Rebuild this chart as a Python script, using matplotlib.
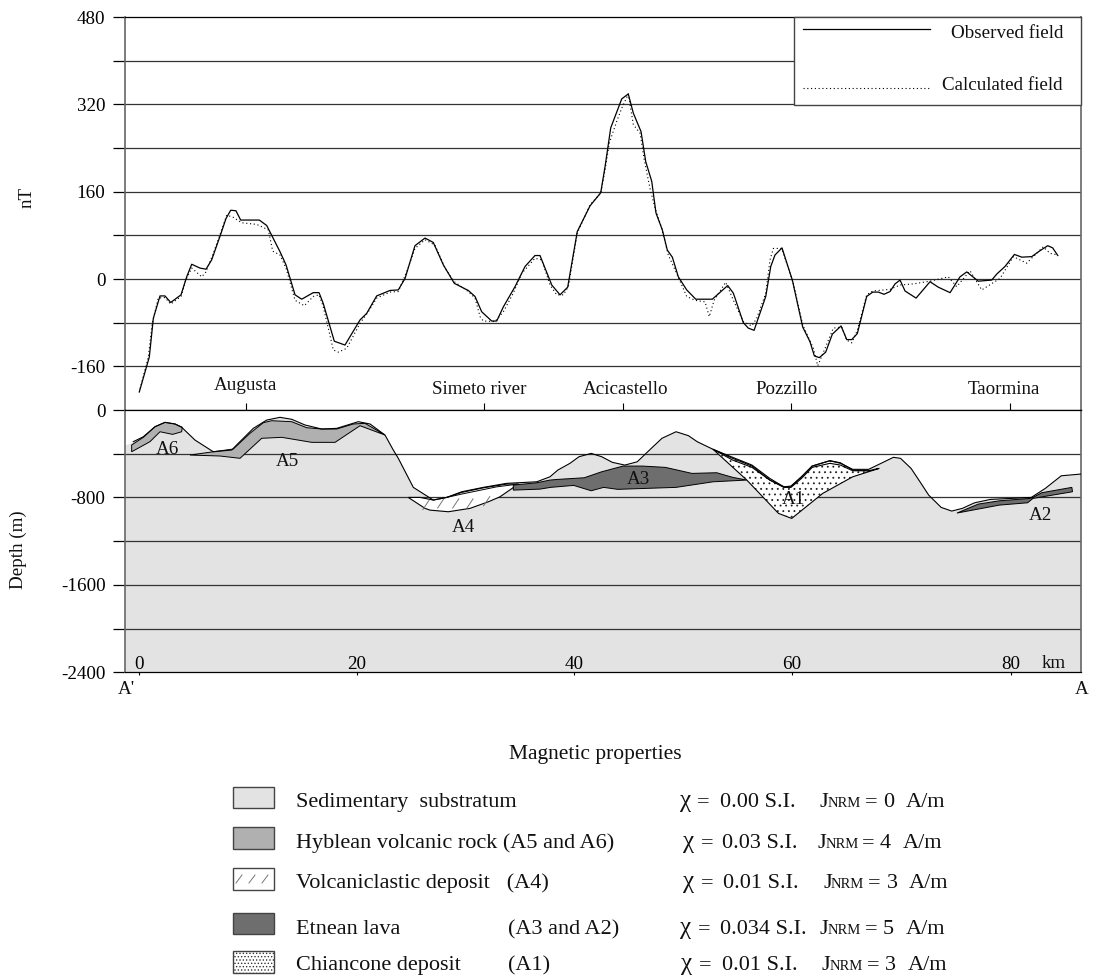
import matplotlib
matplotlib.use("Agg")
import matplotlib.pyplot as plt
from matplotlib.patches import Rectangle

plt.rcParams['font.family'] = ['Liberation Serif', 'DejaVu Serif']
plt.rcParams['hatch.linewidth'] = 0.6

# ---------- magnetic profile (km, nT)
obs_km = [.21,1.13,1.50,2.11,2.57,3.09,4.04,4.56,5.02,5.78,6.33,6.85,7.61,8.17,8.6,9.08,9.51,11.22,11.9,13.12,13.67,14.5,15.11,16.17,16.7,17.09,18.1,19.08,20.46,21.07,21.99,23.21,23.97,24.59,25.5,26.42,27.18,28.1,29.11,30.39,31.01,31.62,32.54,33.0,33.61,34.68,35.6,36.51,36.97,38.05,38.81,39.51,40.39,41.56,42.54,42.94,43.46,44.47,45.07,45.53,46.24,46.67,47.22,47.61,48.19,48.65,49.11,49.66,50.43,51.26,52.78,54.19,54.71,55.62,56.08,56.61,57.68,58.14,58.53,59.17,60.12,61.07,61.74,62.14,62.6,63.18,63.79,64.59,65.11,65.57,66.08,66.94,67.49,68.01,68.53,69.08,69.54,70.0,70.46,71.47,72.75,73.51,74.59,75.5,76.12,77.18,78.41,78.87,79.63,80.49,81.17,82.08,82.85,83.55,84.0,84.47]
obs_nT = [-207,-143,-72,-31,-31,-43,-29,4,27,20,18,35,78,111,126,125,108,108,98,50,26,-29,-37,-25,-25,-45,-114,-121,-75,-63,-31,-21,-20,1,61,75,67,26,-8,-21,-32,-60,-77,-77,-51,-14,23,43,43,-11,-29,-15,87,134,158,206,277,330,339,304,270,215,179,121,90,53,40,4,-20,-37,-37,-12,-26,-80,-90,-94,-32,23,44,57,-2,-88,-115,-141,-144,-134,-101,-86,-111,-111,-100,-32,-24,-24,-28,-23,-9,-2,-22,-35,-5,-15,-25,4,13,-4,-2,9,23,45,40,41,52,61,57,43]

calc_km = [.28,1.04,1.40,1.95,2.57,3.09,4.04,4.47,5.02,5.94,6.33,7.0,7.61,8.23,8.83,9.61,10.98,12.05,12.45,13.12,13.67,14.5,15.35,16.17,16.7,17.09,18.01,18.47,19.24,20.46,21.22,21.99,23.21,23.97,24.74,25.5,26.42,27.34,28.26,29.11,30.39,31.01,31.47,31.77,32.84,33.61,34.52,35.29,36.51,37.13,37.89,38.5,39.11,39.57,40.39,41.56,42.54,42.94,43.33,44.01,44.47,45.07,45.53,46.15,46.51,47.06,47.52,48.14,48.74,49.51,50.43,51.19,52.11,52.5,52.94,54.01,54.71,55.62,56.39,56.85,57.68,58.07,58.38,59.15,60.21,61.07,62.05,62.45,63.12,63.88,64.65,65.11,65.57,66.08,66.94,67.49,69.08,70.0,71.22,72.75,74.43,75.2,76.42,77.49,79.17,80.39,81.62,83.14,83.76,84.47]
calc_nT = [-201,-143,-81,-35,-34,-46,-32,-2,20,4,13,47,81,117,113,103,100,90,51,44,20,-39,-49,-32,-29,-51,-130,-134,-127,-81,-60,-35,-24,-23,13,56,72,62,20,-5,-23,-35,-69,-77,-78,-60,-26,10,38,35,-11,-29,-29,-14,84,136,157,200,249,289,313,339,283,267,221,166,130,93,44,10,-32,-39,-42,-69,-39,-6,-39,-78,-86,-72,-26,35,56,56,-8,-84,-127,-159,-127,-90,-88,-112,-117,-94,-29,-22,-19,-11,-9,-4,4,-14,15,-20,1,41,29,59,47,44]

# ---------- geological section (km, depth m)
topo_km = [-1.1,-.34,.58,1.65,2.57,3.49,4.1,5.32,7.0,8.69,9.29,10.67,11.9,13.12,14.19,15.41,16.94,18.32,20.3,21.38,22.75,23.51,23.97,25.35,27.18,28.41,29.79,31.77,33.92,36.67,37.89,38.6,39.72,40.54,41.67,42.64,43.61,44.75,45.89,47.18,48.16,49.45,50.59,51.39,52.85,54.64,56.42,58.05,59.34,59.99,60.96,61.94,63.56,64.53,65.66,67.12,68.26,69.39,70.04,71.01,71.83,72.63,73.77,74.74,75.72,76.84,78.3,82.04,83.33,84.79,86.6]
topo_m = [-320,-290,-245,-153,-113,-128,-158,-275,-382,-366,-305,-168,-92,-67,-85,-137,-174,-168,-107,-128,-229,-366,-442,-708,-824,-800,-748,-708,-671,-657,-611,-550,-488,-428,-397,-428,-479,-504,-474,-351,-259,-199,-235,-290,-360,-442,-513,-641,-703,-703,-611,-513,-464,-488,-543,-543,-488,-433,-442,-534,-657,-779,-891,-925,-900,-849,-818,-800,-717,-602,-586]

a6_km = [-.49,-.49,.58,1.65,2.57,3.49,4.15,4.1,3.27,2.11,1.19]
a6_m = [-382,-320,-250,-153,-113,-128,-158,-199,-223,-199,-290]

a5_km = [4.86,7.0,8.83,10.37,11.59,12.36,14.19,15.57,16.94,18.32,19.84,20.92,22.75,20.46,18.17,16.03,13.28,11.44,9.45,7.61]
a5_m = [-412,-382,-357,-213,-116,-98,-107,-162,-174,-174,-128,-122,-229,-144,-296,-296,-250,-259,-442,-421]

a4_km = [24.89,26.42,26.88,28.56,30.55,32.23,33.3,34.98,33.92,31.77,29.79,28.41,27.18,25.96]
a4_m = [-800,-900,-916,-931,-900,-840,-794,-678,-678,-712,-754,-800,-824,-800]
a4_inner_km = [28.41,29.79,33.0,34.98]
a4_inner_m = [-800,-769,-703,-678]
a4_slash_km = [26.5,27.86,29.24,30.55,32.08]
a4_slash_m = [-870,-855,-855,-855,-834]

a3_km = [34.52,36.67,37.89,38.6,41.03,42.64,44.59,46.38,48.48,50.91,53.18,54.64,55.94,52.85,49.45,44.1,42.81,41.67,40.06,37.94,36.97,34.52]
a3_m = [-687,-666,-641,-635,-620,-565,-513,-513,-525,-580,-574,-616,-641,-657,-708,-726,-708,-739,-690,-708,-724,-733]

a2_km = [75.22,77.17,79.1,81.9,82.19,83.0,85.76,85.82,82.19,81.7,79.12]
a2_m = [-943,-861,-831,-809,-800,-757,-708,-748,-809,-849,-870]

a1_km = [52.85,54.64,56.42,58.05,59.34,59.99,60.96,61.94,63.56,64.53,65.66,67.12,68.09,65.66,62.91,60.06,58.85,55.94]
a1_m = [-360,-433,-504,-626,-703,-696,-611,-513,-464,-483,-550,-556,-534,-611,-763,-992,-946,-641]
a1_inner_km = [52.85,54.64,56.42,58.05,59.34,59.99,60.96,61.94,63.56,64.53,65.66,67.12]
a1_inner_m = [-360,-458,-525,-641,-708,-708,-626,-525,-488,-504,-556,-556]

# ---------- ticks and labels
nT_ticks = [480,400,320,240,160,80,0,-80,-160]
nT_labels = ['480','','320','','160','','0','','-160']
depth_ticks = [0,-400,-800,-1200,-1600,-2000,-2400]
depth_labels = ['0','','-800','','-1600','','-2400']
km_tick_pos = [.18,20.16,40.09,60.09,80.18]
km_labels = ['0','20','40','60','80']
place_km = [10.0,31.83,44.59,60.0,80.09]
place_names = ['Augusta','Simeto river','Acicastello','Pozzillo','Taormina']

legend_names = ['Sedimentary  substratum','Hyblean volcanic rock (A5 and A6)','Volcaniclastic deposit   (A4)','Etnean lava','Chiancone deposit']
legend_chi = ['0.00 S.I.','0.03 S.I.','0.01 S.I.','0.034 S.I.','0.01 S.I.']
legend_j = ['0','4','3','5','3']

# ---------- colours
C_SED, C_HYB, C_LAVA, C_GRID, C_SPINE = '#E3E3E3', '#B0B0B0', '#6E6E6E', '#333333', '#666666'
FS, FS_LEG = 13.7, 16

W, H = 1093, 975
fig = plt.figure(figsize=(W/100, H/100), dpi=100)

def box(l, t, r, b):
    return [l/W, 1-b/H, (r-l)/W, (b-t)/H]

up = fig.add_axes(box(125, 17, 1081, 410))
lo = fig.add_axes(box(125, 410, 1081, 672.3))

for ax in (up, lo):
    ax.set_xlim(-1.1, 86.6)
    for s in ('left', 'right'):
        ax.spines[s].set_color(C_SPINE)
        ax.spines[s].set_linewidth(1.2)
    ax.spines['top'].set_linewidth(0.9)
    ax.spines['bottom'].set_linewidth(0.9)
    ax.grid(False)

up.set_ylim(-240, 480)
lo.set_ylim(-2400, 0)

# upper panel
up.set_yticks(nT_ticks, nT_labels)
up.tick_params(axis='y', length=8.6, width=0.9, pad=5.5, labelsize=FS)
up.set_xticks(place_km, [''] * len(place_km))
up.tick_params(axis='x', direction='in', length=5, width=0.8)
for v in nT_ticks[1:]:
    up.axhline(v, color=C_GRID, lw=0.9, zorder=2)
up.plot(obs_km, obs_nT, color='black', lw=0.9, zorder=4)
up.plot(calc_km, calc_nT, color='black', lw=0.8, ls=(0, (1, 2.4)), zorder=4)

# lower panel
lo.set_yticks(depth_ticks, depth_labels)
lo.tick_params(axis='y', length=8.6, width=0.9, pad=5.5, labelsize=FS)
lo.set_xticks(km_tick_pos, km_labels)
lo.tick_params(axis='x', direction='out', length=2, width=0.8, pad=-13.4, labelsize=FS)
lo.fill_between(topo_km, topo_m, -2400, color=C_SED, lw=0, zorder=1)
for v in depth_ticks[1:-1]:
    lo.axhline(v, color=C_GRID, lw=0.9, zorder=2)
lo.fill(a1_km, a1_m, facecolor='white', edgecolor='none', zorder=2.5)
lo.fill(a1_km, a1_m, facecolor='none', edgecolor='#222222', hatch='...', lw=0, zorder=2.6)
lo.fill(a1_km, a1_m, facecolor='none', edgecolor='black', lw=0.8, zorder=3)
lo.plot(a1_inner_km, a1_inner_m, color='black', lw=0.8, zorder=3)
lo.fill(a4_km, a4_m, facecolor='white', edgecolor='black', lw=0.8, zorder=3)
lo.plot(a4_inner_km, a4_inner_m, color='black', lw=0.7, zorder=3.1)
for k, d in zip(a4_slash_km, a4_slash_m):
    lo.plot([k - .28, k + .28], [d - 42, d + 42], color='#777777', lw=0.7, zorder=3.2)
for ks, ds, col in ((a6_km, a6_m, C_HYB), (a5_km, a5_m, C_HYB), (a3_km, a3_m, C_LAVA), (a2_km, a2_m, C_LAVA)):
    lo.fill(ks, ds, facecolor=col, edgecolor='black', lw=0.7, zorder=3.5)
lo.plot(topo_km[1:], topo_m[1:], color='black', lw=0.8, zorder=4)

# overlay in pixel units for annotation
ann = fig.add_axes([0, 0, 1, 1], zorder=10)
ann.set_xlim(0, W)
ann.set_ylim(H, 0)
ann.axis('off')
ann.patch.set_alpha(0)

def T(x, y, s, ha='center', fs=FS, **kw):
    ann.text(x, y + 2, s, ha=ha, va='center', fontsize=fs, color='#111111', **kw)

def B(x, y, s, fs=FS_LEG):
    ann.text(x, y, s, ha='left', va='baseline', fontsize=fs, color='#111111')

T(27, 195, 'nT', rotation=90)
T(18, 548, 'Depth (m)', rotation=90)
for x, y, s in zip([246, 479, 626, 787, 1004], [383, 388, 388, 388, 388], place_names):
    T(x, y, s)
for x, y, s in zip([167, 287, 463, 638, 793, 1040], [447, 459, 525, 477, 498, 513], ['A6', 'A5', 'A4', 'A3', 'A1', 'A2']):
    T(x, y, s)
T(1054, 662, 'km')
T(126, 688, "A'")
T(1082, 688, 'A')

# field legend box
ann.add_patch(Rectangle((793.7, 17), 287.3, 88, facecolor='white', edgecolor='#444444', lw=1.0))
ann.plot([803, 930], [29, 29], color='black', lw=0.9)
ann.plot([803, 930], [87.7, 87.7], color='black', lw=0.8, ls=(0, (1, 2.4)))
T(1063, 31, 'Observed field', ha='right')
T(1063, 84, 'Calculated field', ha='right')

# magnetic properties
T(595, 753, 'Magnetic properties', fs=15.5)
rows_sw = [(787, 808), (827, 849), (868, 890), (913, 934), (951, 973)]
base_y = [806.7, 847.7, 888.3, 934, 970]
faces = [C_SED, C_HYB, 'white', C_LAVA, 'white']
for (t, b), face in zip(rows_sw, faces):
    ann.add_patch(Rectangle((233, t), 41, b - t, facecolor=face, edgecolor='#444444', lw=1.0))
ann.add_patch(Rectangle((233, 951), 41, 22, facecolor='none', edgecolor='#333333', hatch='.....', lw=0))
for x in (239, 252, 265):
    ann.plot([x - 3, x + 3], [883, 875], color='#777777', lw=0.7)
for y, s in zip(base_y, legend_names):
    B(296, y, s)
B(508, base_y[3], '(A3 and A2)')
B(508, base_y[4], '(A1)')

chi_x = [680, 683, 683, 680, 681]
eq_x = [697, 701, 701, 698, 699]
num_x = [720, 722, 723, 720, 722]
j_x = [820, 818, 823, 820, 822]
eq2_x = [865, 862, 868, 865, 867]
val_x = [883, 880, 887, 883, 885]
unit_x = [906, 903, 909, 906, 908]
for i, y in enumerate(base_y):
    B(chi_x[i], y, 'χ', fs=FS_LEG + 2)
    B(eq_x[i], y, '=')
    B(num_x[i], y, legend_chi[i])
    B(j_x[i], y, 'J')
    B(j_x[i] + 7.5, y, 'NRM', fs=10.5)
    B(eq2_x[i], y, '=')
    B(val_x[i], y, legend_j[i])
    B(unit_x[i], y, 'A/m')

fig.savefig('out.png', dpi=100)
